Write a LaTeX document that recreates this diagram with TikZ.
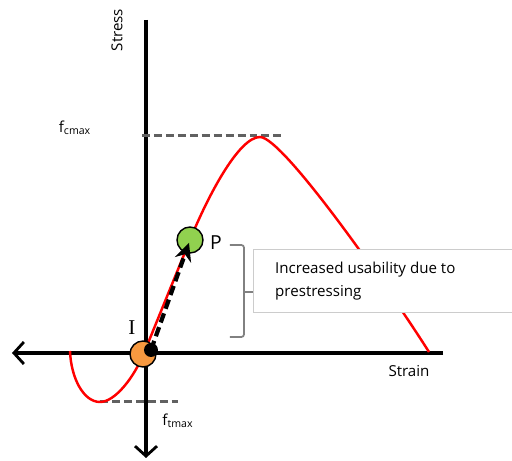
\documentclass[tikz,border=0pt]{standalone}
\usepackage{fontspec}
\setmainfont{Open Sans}
\newfontfamily\labelserif{Liberation Serif}
\usetikzlibrary{arrows.meta, positioning, calc}
\definecolor{CurveRed}{rgb}{1, 0, 0}
\definecolor{GuideGray}{rgb}{0.38, 0.38, 0.38}
\definecolor{PointOrange}{rgb}{0.97, 0.6, 0.25}
\definecolor{PointGreen}{rgb}{0.57, 0.82, 0.31}

\begin{document}
\begin{tikzpicture}[
    font=\fontsize{8.6}{13}\selectfont,
    axis/.style={line width=2pt, black},
    guide/.style={line width=1.7pt, GuideGray, dash pattern=on 4.5pt off 2.3pt},
    point/.style={circle, draw=black, line width=0.8pt, minimum size=0.52cm, inner sep=0pt},
]
\useasboundingbox (-2.92,-2.16) rectangle (7.32,7.06);

% ---- ejes ----
\coordinate (O) at (0,0);
\coordinate (top) at (0,6.66);
\coordinate (bottom) at (0,-2.10);
\coordinate (left) at (-2.68,0);
\coordinate (right) at (5.94,0);
\draw[axis, -{Straight Barb[length=2mm, width=4.4mm, line width=1.6pt]}] (top) -- (bottom);
\draw[axis, -{Straight Barb[length=2mm, width=4.4mm, line width=1.6pt]}] (right) -- (left);
\node[rotate=90] (stress) at (-0.58,6.46) {Stress};
\node (strain) at (5.26,-0.36) {Strain};

% ---- limites ----
\draw[guide] (-0.08,4.34) -- (2.72,4.34);
\draw[guide] (-0.92,-0.98) -- (0.64,-0.98);
\node (fc) at (-1.42,4.50) {f\textsubscript{cmax}};
\node (ft) at (0.64,-1.36) {f\textsubscript{tmax}};

% ---- curva ----
\draw[CurveRed, line width=1.4pt] (-1.52,0.04)
    .. controls (-1.50,-0.50) and (-1.25,-0.98) .. (-0.92,-0.98)
    .. controls (-0.62,-0.98) and (-0.24,-0.49) .. (-0.04,0)
    -- (0.88,2.26)
    .. controls (1.22,3.10) and (1.85,4.32) .. (2.28,4.32)
    .. controls (2.75,4.32) and (4.96,1.13) .. (5.66,0.02);

% ---- puntos I y P ----
\node[point, fill=PointOrange] (I) at (-0.06,-0.02) {};
\node[circle, fill=black, minimum size=0.28cm, inner sep=0pt] (dot) at (0.10,0.06) {};
\node[point, fill=PointGreen] (P) at (0.88,2.26) {};
\node[font=\labelserif\fontsize{12}{13}\selectfont] (Ilabel) at (-0.28,0.50) {I};
\node[font=\fontsize{11}{13}\selectfont] (Plabel) at (1.40,2.20) {P};
\draw[line width=2.4pt, dash pattern=on 5.5pt off 2.8pt, shorten >=0.06cm,
    -{Stealth[length=3.6mm, width=3.4mm]}] (dot.center) -- (P.center);

% ---- llave y recuadro ----
\node[draw=gray!40, fill=white, line width=0.6pt, anchor=north west, minimum width=5.4cm,
    minimum height=1.26cm, inner sep=0pt] (box) at (2.14,2.08) {};
\node[anchor=west, align=left] (note) at (2.46,1.44) {Increased usability due to\\prestressing};
\draw[GuideGray!80, line width=1pt, rounded corners=1.5pt]
    (1.68,2.16) -- (1.96,2.16) -- (1.96,0.32) -- (1.68,0.32);
\draw[GuideGray!80, line width=1pt] (1.96,1.22) -- (box.west |- 0,1.22);

\end{tikzpicture}
\end{document}
